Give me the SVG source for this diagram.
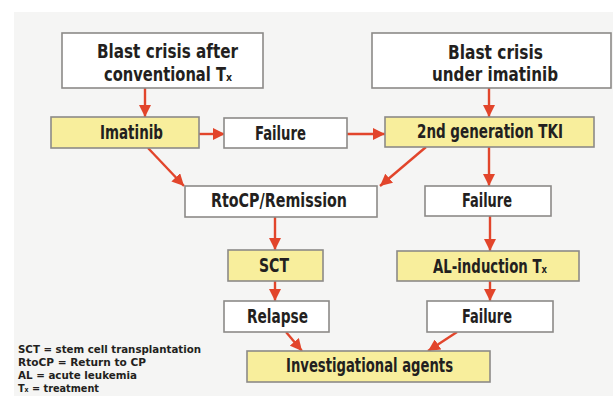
<svg xmlns="http://www.w3.org/2000/svg" width="613" height="396" viewBox="0 0 613 396">
<defs>
<style>
.bg{fill:#f5f5f4}
.box{fill:#ffffff;stroke:#8c8a88;stroke-width:1.6}
.hl{fill:#f8ee9c;stroke:#8c8a88;stroke-width:1.6}
.t{font-family:"Liberation Sans Narrow","DejaVu Sans Condensed","Liberation Sans",sans-serif;font-weight:bold;font-size:19px;fill:#231f20}
.lg{font-family:"Liberation Sans Narrow","DejaVu Sans Condensed","Liberation Sans",sans-serif;font-weight:bold;font-size:11px;fill:#231f20}
.c{fill:none;stroke:#e2452b;stroke-width:2.4;marker-end:url(#ah)}
</style>
<marker id="ah" markerUnits="userSpaceOnUse" markerWidth="12" markerHeight="12" viewBox="0 0 12 12" refX="12" refY="6" orient="auto">
<path d="M0,0 L12,6 L0,12 Z" fill="#e2452b"/>
</marker>
</defs>
<rect class="bg" x="14" y="12" width="599" height="384"/>
<g id="connectors">
<path class="c" d="M145,88 L145,117"/>
<path class="c" d="M199,134 L225,134"/>
<path class="c" d="M347,134 L385,134"/>
<path class="c" d="M489,88 L489,117"/>
<path class="c" d="M148,148 L184,186"/>
<path class="c" d="M426,147 L380,186"/>
<path class="c" d="M489,147 L489,186"/>
<path class="c" d="M275,217 L275,250"/>
<path class="c" d="M490,216 L490,251"/>
<path class="c" d="M275,281 L275,301"/>
<path class="c" d="M490,281 L490,301"/>
<path class="c" d="M286,332 L302,351"/>
<path class="c" d="M457,332 L428,351"/>
</g>
<g id="n_blast1">
<rect class="box" x="62" y="33" width="201" height="55"/>
<text class="t" x="97" y="58" textLength="141" lengthAdjust="spacingAndGlyphs">Blast crisis after</text>
<text class="t" x="104" y="81" textLength="128" lengthAdjust="spacingAndGlyphs">conventional Tₓ</text>
</g>
<g id="n_blast2">
<rect class="box" x="372" y="33" width="239" height="55"/>
<text class="t" x="448" y="59" textLength="95" lengthAdjust="spacingAndGlyphs">Blast crisis</text>
<text class="t" x="432" y="81" textLength="126" lengthAdjust="spacingAndGlyphs">under imatinib</text>
</g>
<g id="n_imatinib">
<rect class="hl" x="51" y="117" width="148" height="31"/>
<text class="t" x="100" y="139" textLength="63" lengthAdjust="spacingAndGlyphs">Imatinib</text>
</g>
<g id="n_failure1">
<rect class="box" x="224" y="118" width="123" height="30"/>
<text class="t" x="255" y="140" textLength="51" lengthAdjust="spacingAndGlyphs">Failure</text>
</g>
<g id="n_tki">
<rect class="hl" x="385" y="117" width="209" height="30"/>
<text class="t" x="417" y="138" textLength="146" lengthAdjust="spacingAndGlyphs">2nd generation TKI</text>
</g>
<g id="n_rtocp">
<rect class="box" x="185" y="186" width="192" height="31"/>
<text class="t" x="211" y="207" textLength="136" lengthAdjust="spacingAndGlyphs">RtoCP/Remission</text>
</g>
<g id="n_failure2">
<rect class="box" x="425" y="186" width="126" height="30"/>
<text class="t" x="462" y="207" textLength="50" lengthAdjust="spacingAndGlyphs">Failure</text>
</g>
<g id="n_sct">
<rect class="hl" x="228" y="250" width="95" height="31"/>
<text class="t" x="259" y="272" textLength="30" lengthAdjust="spacingAndGlyphs">SCT</text>
</g>
<g id="n_al">
<rect class="hl" x="397" y="251" width="182" height="30"/>
<text class="t" x="433" y="273" textLength="114" lengthAdjust="spacingAndGlyphs">AL-induction Tₓ</text>
</g>
<g id="n_relapse">
<rect class="box" x="224" y="301" width="105" height="31"/>
<text class="t" x="247" y="323" textLength="61" lengthAdjust="spacingAndGlyphs">Relapse</text>
</g>
<g id="n_failure3">
<rect class="box" x="427" y="301" width="126" height="31"/>
<text class="t" x="462" y="323" textLength="50" lengthAdjust="spacingAndGlyphs">Failure</text>
</g>
<g id="n_invest">
<rect class="hl" x="247" y="351" width="243" height="31"/>
<text class="t" x="286" y="372" textLength="167" lengthAdjust="spacingAndGlyphs">Investigational agents</text>
</g>
<g id="legend">
<text class="lg" x="18" y="353" textLength="183" lengthAdjust="spacingAndGlyphs">SCT = stem cell transplantation</text>
<text class="lg" x="18" y="366" textLength="128" lengthAdjust="spacingAndGlyphs">RtoCP = Return to CP</text>
<text class="lg" x="18" y="379" textLength="119" lengthAdjust="spacingAndGlyphs">AL = acute leukemia</text>
<text class="lg" x="18" y="392" textLength="81" lengthAdjust="spacingAndGlyphs">Tₓ = treatment</text>
</g>
</svg>
